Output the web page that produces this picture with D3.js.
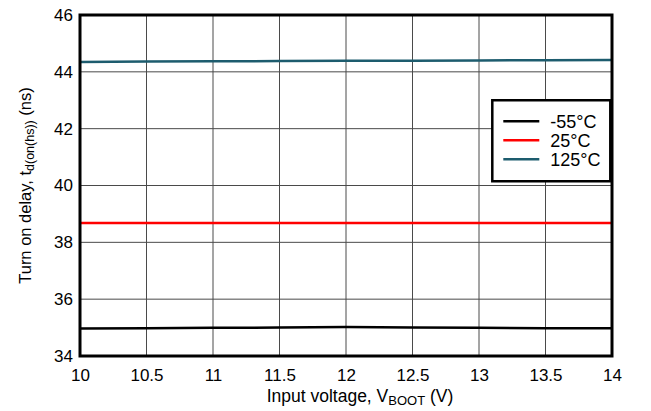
<!DOCTYPE html>
<html>
<head>
<meta charset="utf-8">
<script src="https://cdn.jsdelivr.net/npm/d3@7"></script>
<style>
  html, body { margin: 0; padding: 0; background: #fff; }
  svg { display: block; font-family: "Liberation Sans", Arial, sans-serif; }
</style>
</head>
<body>
<div id="chart"></div>
<script>
// input voltage V_BOOT (V)
const voltages = [10, 10.5, 11, 11.5, 12, 12.5, 13, 13.5, 14];
// turn on delay (ns) per temperature
const delayM55 = [34.97, 34.98, 34.99, 35.0, 35.02, 35.0, 34.99, 34.98, 34.98];
const delay25 = [38.68, 38.68, 38.68, 38.68, 38.68, 38.68, 38.68, 38.68, 38.68];
const delay125 = [44.35, 44.36, 44.37, 44.38, 44.39, 44.39, 44.40, 44.41, 44.42];
const seriesNames = ["-55°C", "25°C", "125°C"];
const xTicks = [10, 10.5, 11, 11.5, 12, 12.5, 13, 13.5, 14];
const yTicks = [34, 36, 38, 40, 42, 44, 46];

const colors = ["#000000", "#ff0000", "#1d5c6e"];
const series = [delayM55, delay25, delay125].map((vals, i) => ({
  name: seriesNames[i],
  color: colors[i],
  points: vals.map((v, j) => ({ x: voltages[j], y: v }))
}));

const W = 651, H = 411;
const margin = { top: 15, right: 39, bottom: 55, left: 80 };
const innerW = W - margin.left - margin.right;
const innerH = H - margin.top - margin.bottom;

const svg = d3.select("#chart").append("svg")
  .attr("width", W).attr("height", H);

const g = svg.append("g").attr("transform", `translate(${margin.left},${margin.top})`);

const x = d3.scaleLinear().domain([10, 14]).range([0, innerW]);
const y = d3.scaleLinear().domain([34, 46]).range([innerH, 0]);

// grid
g.append("g").selectAll("line").data(xTicks.slice(1, -1)).join("line")
  .attr("x1", d => x(d)).attr("x2", d => x(d))
  .attr("y1", 0).attr("y2", innerH)
  .attr("stroke", "#4a4a4a").attr("stroke-width", 1);
g.append("g").selectAll("line").data(yTicks.slice(1, -1)).join("line")
  .attr("x1", 0).attr("x2", innerW)
  .attr("y1", d => y(d)).attr("y2", d => y(d))
  .attr("stroke", "#4a4a4a").attr("stroke-width", 1);

// axes (labels only)
const xAxis = g.append("g").attr("transform", `translate(0,${innerH})`)
  .call(d3.axisBottom(x).tickValues(xTicks).tickSize(0).tickPadding(13).tickFormat(d3.format("")));
const yAxis = g.append("g")
  .call(d3.axisLeft(y).tickValues(yTicks).tickSize(0).tickPadding(7));
[xAxis, yAxis].forEach(a => {
  a.select(".domain").remove();
  a.selectAll("text").attr("font-size", 17).attr("fill", "#000")
    .attr("font-family", "Liberation Sans, Arial, sans-serif");
});

// series
const line = d3.line().x(d => x(d.x)).y(d => y(d.y));
g.append("g").selectAll("path").data(series).join("path")
  .attr("d", d => line(d.points))
  .attr("fill", "none")
  .attr("stroke", d => d.color)
  .attr("stroke-width", 2.5);

// frame
g.append("rect")
  .attr("x", 0).attr("y", 0).attr("width", innerW).attr("height", innerH)
  .attr("fill", "none").attr("stroke", "#000").attr("stroke-width", 3);

// legend
const lg = g.append("g").attr("transform", `translate(${x(13.1)},${y(43.0)})`);
lg.append("rect")
  .attr("x", 0).attr("y", 0).attr("width", 118).attr("height", 81)
  .attr("fill", "#fff").attr("stroke", "#000").attr("stroke-width", 2.5);
const rows = lg.selectAll("g.row").data(series).join("g")
  .attr("class", "row")
  .attr("transform", (d, i) => `translate(0,${21 + i * 19})`);
rows.append("line")
  .attr("x1", 11).attr("x2", 47).attr("y1", 0).attr("y2", 0)
  .attr("stroke", d => d.color).attr("stroke-width", 2.5);
rows.append("text")
  .attr("x", 58).attr("y", 0).attr("dy", "0.36em")
  .attr("font-size", 18).attr("fill", "#000")
  .text(d => d.name);

// axis titles
const xt = svg.append("text")
  .attr("x", margin.left + innerW / 2 + 14).attr("y", 402)
  .attr("text-anchor", "middle").attr("font-size", 17.5).attr("fill", "#000");
xt.append("tspan").text("Input voltage, V");
xt.append("tspan").attr("font-size", 13).attr("dy", 3).text("BOOT");
xt.append("tspan").attr("dy", -3).text(" (V)");

const yt = svg.append("text")
  .attr("transform", `translate(31,${margin.top + innerH / 2}) rotate(-90)`)
  .attr("text-anchor", "middle").attr("font-size", 16.5).attr("fill", "#000");
yt.append("tspan").text("Turn on delay, t");
yt.append("tspan").attr("font-size", 12.5).attr("dy", 3).text("d(on(hs))");
yt.append("tspan").attr("dy", -3).text(" (ns)");
</script>
</body>
</html>
